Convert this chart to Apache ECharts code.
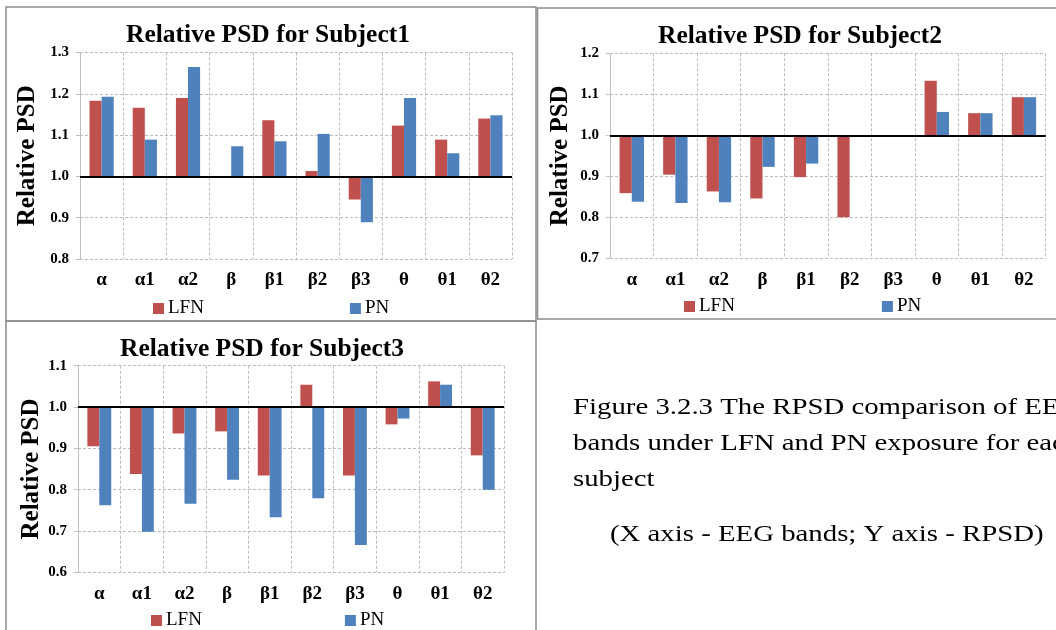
<!DOCTYPE html>
<html>
<head>
<meta charset="utf-8">
<script src="https://cdn.jsdelivr.net/npm/echarts@6/dist/echarts.min.js"></script>
<style>
  html, body { margin: 0; padding: 0; background: #fff; }
  #chart { width: 1056px; height: 630px; }
</style>
</head>
<body>
<div id="chart"></div>
<script>
// EEG bands on the category axis
const BANDS = ['α', 'α1', 'α2', 'β', 'β1', 'β2', 'β3', 'θ', 'θ1', 'θ2'];

// Relative PSD per band (1.0 = baseline)
const S1_LFN = [1.183, 1.166, 1.190, 1.000, 1.136, 1.013, 0.944, 1.123, 1.089, 1.140];
const S1_PN  = [1.193, 1.089, 1.265, 1.073, 1.085, 1.103, 0.889, 1.190, 1.056, 1.148];

const S2_LFN = [0.859, 0.904, 0.863, 0.846, 0.898, 0.800, 1.000, 1.133, 1.054, 1.093];
const S2_PN  = [0.838, 0.835, 0.837, 0.923, 0.931, 1.000, 1.000, 1.057, 1.054, 1.093];

const S3_LFN = [0.905, 0.838, 0.936, 0.941, 0.834, 1.054, 0.834, 0.958, 1.062, 0.883];
const S3_PN  = [0.762, 0.698, 0.766, 0.824, 0.733, 0.779, 0.666, 0.972, 1.054, 0.800];

// Y axis ranges (RPSD)
const S1_RANGE = [0.8, 1.3];
const S2_RANGE = [0.7, 1.2];
const S3_RANGE = [0.6, 1.1];

const TITLES = ['Relative PSD for Subject1', 'Relative PSD for Subject2', 'Relative PSD for Subject3'];
const CAPTION = [
  'Figure 3.2.3 The RPSD comparison of EEG',
  'bands under LFN and PN exposure for each',
  'subject'
];
const CAPTION_NOTE = '(X axis - EEG bands; Y axis - RPSD)';

const BASE = 1.0;
const SERIF = 'Liberation Serif';
const RED = '#C0504D';
const BLUE = '#4F81BD';

const panels = [
  { lfn: S1_LFN, pn: S1_PN, range: S1_RANGE, title: TITLES[0],
    grid: { left: 80, top: 52.5, width: 432, height: 206.5 },
    titlePos: [263, 17], nameGap: 40, legend: { left: 153, top: 299, gap: 146 } },
  { lfn: S2_LFN, pn: S2_PN, range: S2_RANGE, title: TITLES[1],
    grid: { left: 610, top: 53.3, width: 435.7, height: 205 },
    titlePos: [795, 18], nameGap: 37, legend: { left: 684, top: 297, gap: 147 } },
  { lfn: S3_LFN, pn: S3_PN, range: S3_RANGE, title: TITLES[2],
    grid: { left: 78, top: 365.7, width: 426, height: 206.6 },
    titlePos: [257, 331], nameGap: 33, legend: { left: 151, top: 611, gap: 143 } }
];

const gridLine = { show: true, lineStyle: { color: '#bdbdbd', type: [3, 2], width: 1 } };

const option = {
  animation: false,
  backgroundColor: '#fff',
  textStyle: { fontFamily: SERIF },
  title: [], legend: [], grid: [], xAxis: [], yAxis: [], series: [],
  graphic: []
};

panels.forEach((p, i) => {
  option.title.push({
    text: p.title, left: p.titlePos[0], top: p.titlePos[1], textAlign: 'center',
    textStyle: { fontFamily: SERIF, fontWeight: 'bold', fontSize: 25.5, color: '#000' }
  });
  option.legend.push({
    data: ['LFN', 'PN'], left: p.legend.left, top: p.legend.top,
    itemGap: p.legend.gap, itemWidth: 11, itemHeight: 11, icon: 'rect',
    textStyle: { fontFamily: SERIF, fontSize: 19, color: '#000', padding: [0, 0, 0, -1] },
    padding: 0
  });
  option.grid.push(Object.assign({ containLabel: false }, p.grid));
  option.xAxis.push({
    type: 'category', gridIndex: i, data: BANDS, boundaryGap: true,
    axisLine: { show: false }, axisTick: { show: false },
    axisLabel: { interval: 0, margin: 12, fontFamily: SERIF, fontWeight: 'bold', fontSize: 19, color: '#000' },
    splitLine: Object.assign({ interval: 0 }, gridLine)
  });
  option.yAxis.push({
    type: 'value', gridIndex: i,
    min: +(p.range[0] - BASE).toFixed(1), max: +(p.range[1] - BASE).toFixed(1), interval: 0.1,
    axisLine: { show: true, lineStyle: { color: '#bfbfbf', width: 1 } },
    axisTick: { show: true, length: 4, lineStyle: { color: '#bfbfbf' } },
    axisLabel: {
      margin: 11, fontFamily: SERIF, fontWeight: 'bold', fontSize: 15, color: '#000',
      formatter: v => (v + BASE).toFixed(1)
    },
    splitLine: gridLine,
    name: 'Relative PSD', nameLocation: 'middle', nameRotate: 90, nameGap: p.nameGap,
    nameTextStyle: { fontFamily: SERIF, fontWeight: 'bold', fontSize: 25, color: '#000' }
  });
  // bars grow from the 1.0 baseline
  const delta = arr => arr.map(v => +(v - BASE).toFixed(3));
  option.series.push({
    name: 'LFN', type: 'bar', xAxisIndex: i, yAxisIndex: i, data: delta(p.lfn),
    barWidth: '28%', barGap: '0%', itemStyle: { color: RED },
    markLine: {
      silent: true, symbol: ['none', 'none'], label: { show: false },
      lineStyle: { color: '#000', width: 2, type: 'solid' },
      data: [{ yAxis: 0 }]
    }
  });
  option.series.push({
    name: 'PN', type: 'bar', xAxisIndex: i, yAxisIndex: i, data: delta(p.pn),
    barWidth: '28%', barGap: '0%', itemStyle: { color: BLUE }
  });
});

// panel frames
const frame = (x, y, w, h) => ({
  type: 'rect', shape: { x, y, width: w, height: h },
  style: { fill: 'none', stroke: '#8c8c8c', lineWidth: 1.5 }, silent: true
});
option.graphic.push(frame(6, 7, 530, 314));
option.graphic.push(frame(537.5, 8, 540, 311));
option.graphic.push(frame(6, 321, 530, 330));

// caption, set in a wide roman face
const capFont = '24px "Liberation Serif"';
const capText = (t, x, y) => ({
  type: 'text', x, y, scaleX: 1.2,
  style: { text: t, font: capFont, fill: '#000', textVerticalAlign: 'middle' }, silent: true
});
CAPTION.forEach((t, k) => option.graphic.push(capText(t, 573, 408 + k * 36)));
option.graphic.push(capText(CAPTION_NOTE, 610, 535));

const chart = echarts.init(document.getElementById('chart'));
chart.setOption(option);
</script>
</body>
</html>
